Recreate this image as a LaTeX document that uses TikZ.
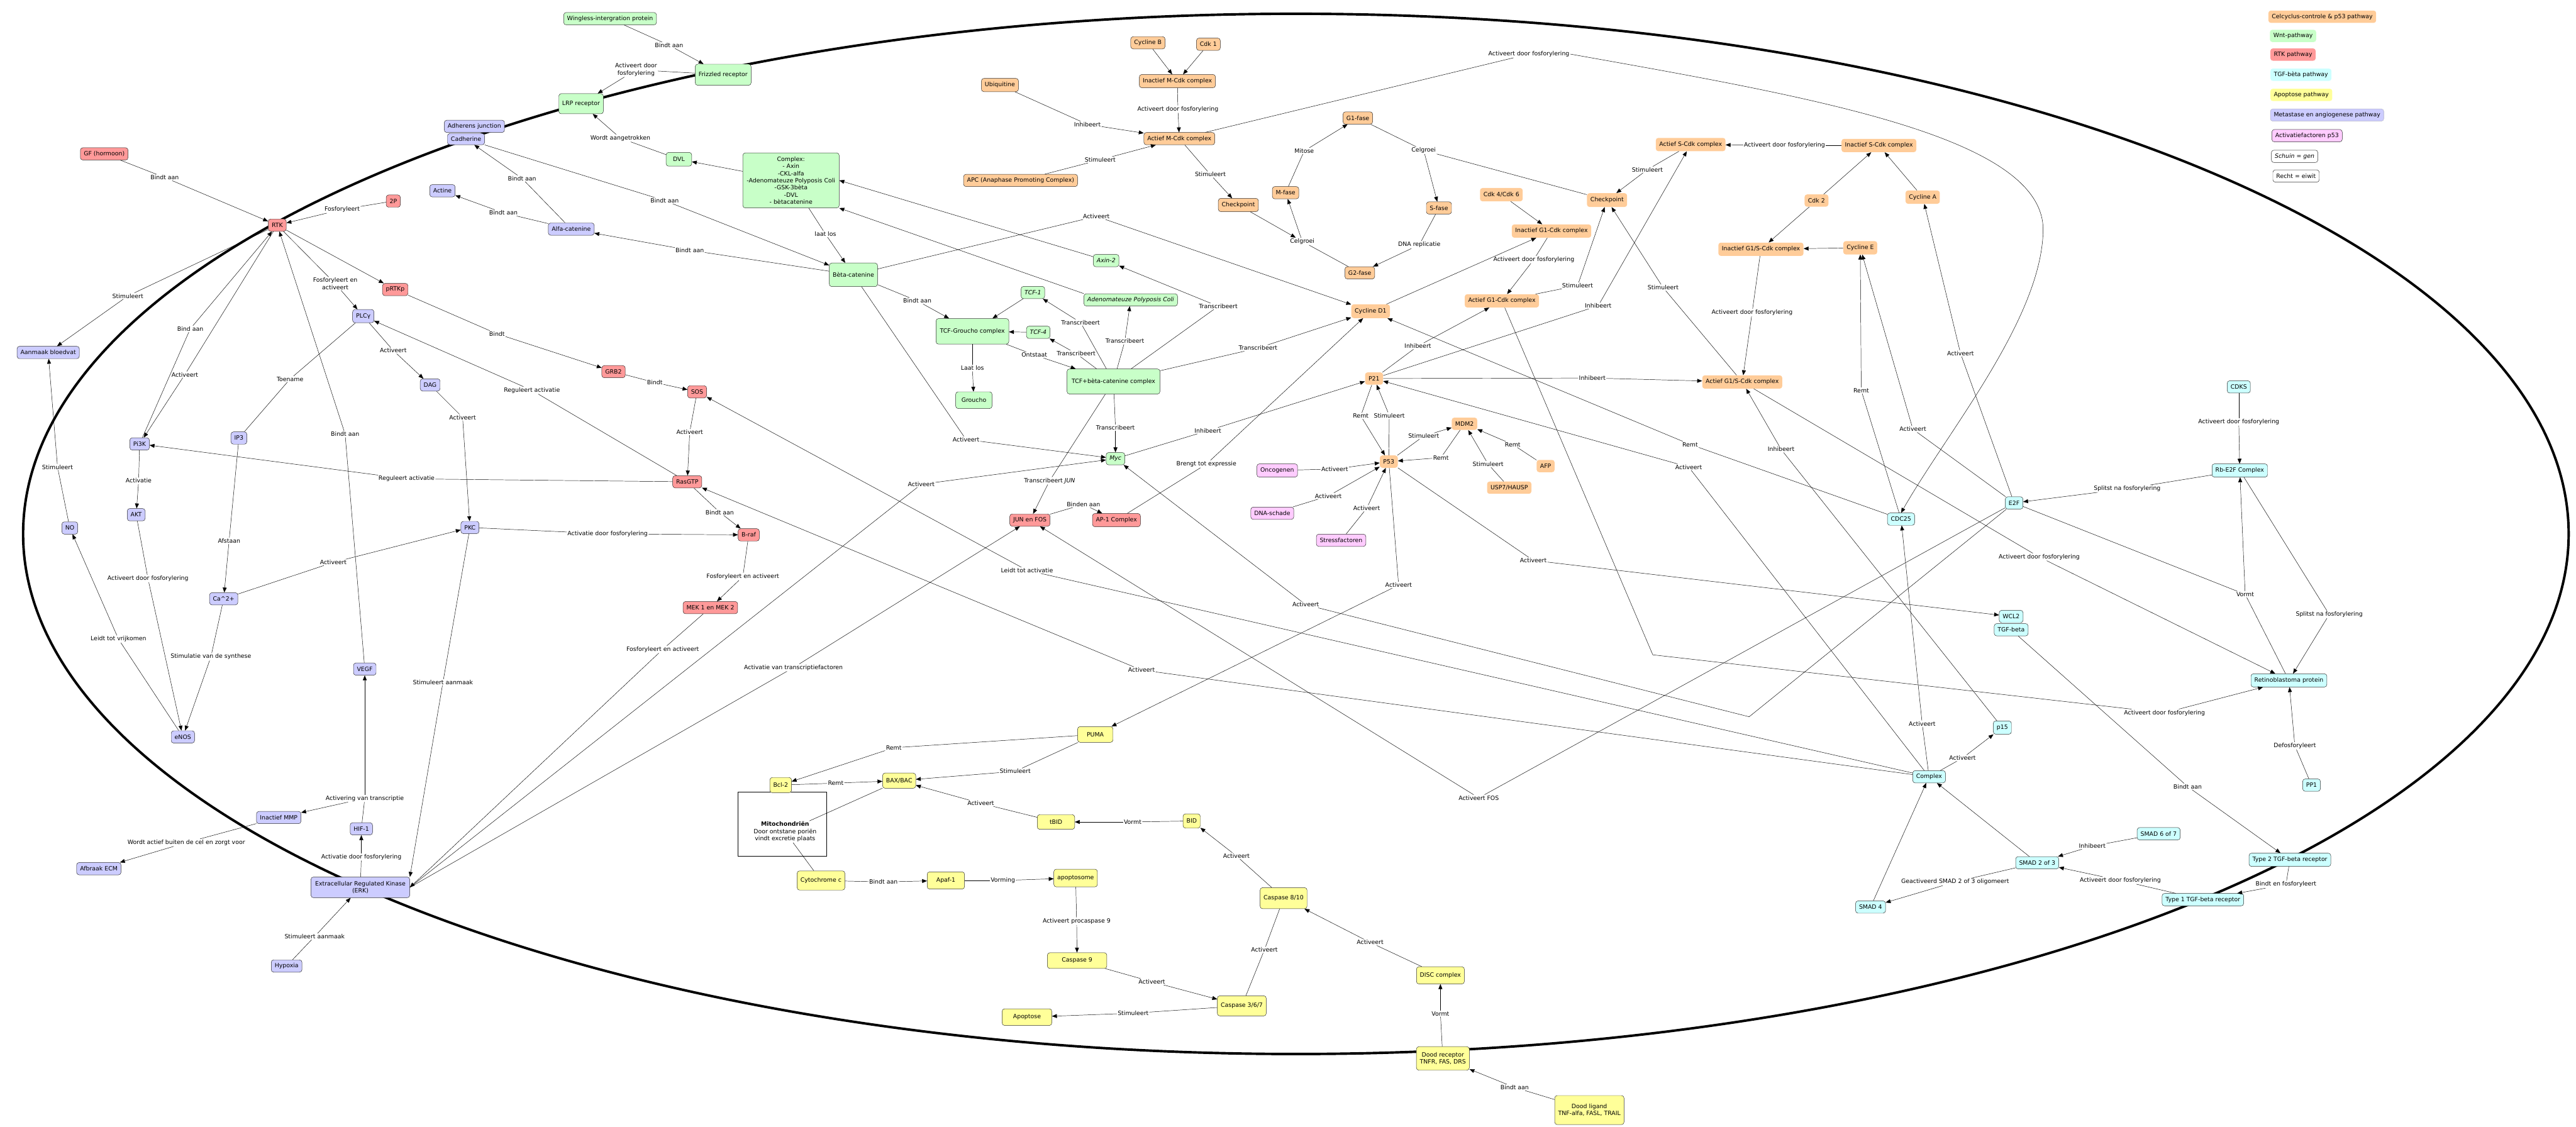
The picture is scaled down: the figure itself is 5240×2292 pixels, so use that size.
\documentclass[tikz,border=0pt]{standalone}
\usepackage{fontspec}
\setmainfont{DejaVu Sans}
\usetikzlibrary{arrows.meta}

\definecolor{cycfill}{HTML}{FFCC99}
\definecolor{wntfill}{HTML}{C8FFC8}
\definecolor{rtkfill}{HTML}{FF9999}
\definecolor{tgffill}{HTML}{CCFFFF}
\definecolor{apofill}{HTML}{FFFF99}
\definecolor{metafill}{HTML}{CCCCFF}
\definecolor{actfill}{HTML}{FFCCFF}

\begin{document}
\begin{tikzpicture}[x=1pt, y=-1pt, line width=0.6pt,
    font=\fontsize{12}{14.5}\selectfont,
    box/.style={draw=black!85, rounded corners=5pt, minimum height=25pt, inner xsep=7pt, inner ysep=2pt, align=center},
    cyc/.style={box, fill=cycfill},
    cycplain/.style={box, draw=none, fill=cycfill},
    wnt/.style={box, fill=wntfill},
    rtk/.style={box, fill=rtkfill},
    tgf/.style={box, fill=tgffill},
    apo/.style={box, fill=apofill},
    meta/.style={box, fill=metafill},
    actp/.style={box, fill=actfill},
    legend/.style={box, draw=none, anchor=west},
    gene/.style={font=\fontsize{12}{14.5}\selectfont\itshape},
    lab/.style={inner sep=1.5pt, align=center},
    arr/.style={-{Triangle[length=10pt, width=8pt]}},
]
\useasboundingbox (0,0) rectangle (5240,2292);

% Cell membrane
\draw[line width=5pt] (2636,1086) ellipse [x radius=2589pt, y radius=1058pt];

% Legend
\node[legend, fill=cycfill] (leg1) at (4614,34) {Celcyclus-controle \& p53 pathway};
\node[legend, fill=wntfill] (leg2) at (4617,73) {Wnt-pathway};
\node[legend, fill=rtkfill] (leg3) at (4618,111) {RTK pathway};
\node[legend, fill=tgffill] (leg4) at (4618,152) {TGF-bèta pathway};
\node[legend, fill=apofill] (leg5) at (4618,193) {Apoptose pathway};
\node[legend, fill=metafill, draw=metafill!60!black!60] (leg6) at (4618,234) {Metastase en angiogenese pathway};
\node[legend, fill=actfill, draw=black!85] (leg7) at (4621,276) {Activatiefactoren p53};
\node[legend, fill=white, draw=black!85, gene] (leg8) at (4620,318) {Schuin = gen};
\node[legend, fill=white, draw=black!85] (leg9) at (4623,358) {Recht = eiwit};

% Wnt pathway
\node[wnt] (wingless) at (1241,38) {Wingless-intergration protein};
\node[wnt, minimum height=43pt] (frizzled) at (1471,152) {Frizzled receptor};
\node[wnt, minimum height=41pt] (lrp) at (1182,211) {LRP receptor};
\node[wnt, minimum height=28pt, minimum width=52pt] (dvl) at (1381,324) {DVL};
\node[wnt, minimum width=196pt, minimum height=112pt] (wcomplex) at (1609,367) {Complex:\\- Axin\\-CKL-alfa\\-Adenomateuze Polyposis Coli\\-GSK-3bèta\\-DVL\\- bètacatenine};
\node[wnt, minimum width=98pt, minimum height=48pt] (beta) at (1736,559) {Bèta-catenine};
\node[wnt, gene] (axin) at (2250,530) {Axin-2};
\node[wnt, gene] (tcf1) at (2101,595) {TCF-1};
\node[wnt, gene] (apcgen) at (2300,610) {Adenomateuze Polyposis Coli};
\node[wnt, minimum width=148pt, minimum height=52pt] (tcfgro) at (1978,674) {TCF-Groucho complex};
\node[wnt, gene] (tcf4) at (2112,676) {TCF-4};
\node[wnt, minimum width=189pt, minimum height=51pt] (tcfbeta) at (2265,776) {TCF+bèta-catenine complex};
\node[wnt, minimum width=74pt, minimum height=34pt] (groucho) at (1981,814) {Groucho};
\node[wnt, gene] (myc) at (2269,933) {Myc};

% Metastase en angiogenese
\node[meta] (adherens) at (965,257) {Adherens junction};
\node[meta, minimum height=23pt] (cadherine) at (948,283) {Cadherine};
\node[meta] (actine) at (900,388) {Actine};
\node[meta] (alfacat) at (1162,466) {Alfa-catenine};
\node[meta] (bloedvat) at (98,717) {Aanmaak bloedvat};
\node[meta, minimum height=27pt] (plc) at (739,643) {PLCγ};
\node[meta] (dag) at (875,783) {DAG};
\node[meta] (pi3k) at (284,903) {Pi3K};
\node[meta] (ip3) at (486,891) {IP3};
\node[meta] (akt) at (277,1047) {AKT};
\node[meta] (no) at (142,1074) {NO};
\node[meta] (pkc) at (956,1073) {PKC};
\node[meta] (ca) at (455,1218) {Ca\textasciicircum{}2+};
\node[meta] (enos) at (372,1499) {eNOS};
\node[meta] (vegf) at (742,1361) {VEGF};
\node[meta] (mmp) at (567,1663) {Inactief MMP};
\node[meta] (hif) at (735,1686) {HIF-1};
\node[meta] (ecm) at (201,1767) {Afbraak ECM};
\node[meta, minimum width=201pt, minimum height=42pt] (erk) at (733,1805) {Extracellular Regulated Kinase\\(ERK)};
\node[meta] (hypoxia) at (583,1965) {Hypoxia};

% RTK pathway
\node[rtk] (gf) at (212,313) {GF (hormoon)};
\node[rtk] (rtk) at (564,458) {RTK};
\node[rtk] (twop) at (800,409) {2P};
\node[rtk] (prtkp) at (804,589) {pRTKp};
\node[rtk] (grb2) at (1248,756) {GRB2};
\node[rtk] (sos) at (1418,797) {SOS};
\node[rtk] (rasgtp) at (1398,980) {RasGTP};
\node[rtk] (braf) at (1523,1088) {B-raf};
\node[rtk] (mek) at (1445,1236) {MEK 1 en MEK 2};
\node[rtk] (junfos) at (2095,1058) {JUN en FOS};
\node[rtk, minimum height=27pt] (ap1) at (2271,1058) {AP-1 Complex};

% Celcyclus-controle & p53
\node[cyc] (cycb) at (2335,87) {Cycline B};
\node[cyc] (cdk1) at (2458,90) {Cdk 1};
\node[cyc, minimum height=27pt] (inmcdk) at (2395,165) {Inactief M-Cdk complex};
\node[cyc, minimum height=27pt] (ubiq) at (2034,173) {Ubiquitine};
\node[cyc] (acmcdk) at (2399,282) {Actief M-Cdk complex};
\node[cyc] (apc) at (2076,367) {APC (Anaphase Promoting Complex)};
\node[cyc, minimum height=27pt] (checkm) at (2519,417) {Checkpoint};
\node[cyc] (mfase) at (2615,392) {M-fase};
\node[cyc] (g1fase) at (2762,240) {G1-fase};
\node[cyc] (sfase) at (2927,423) {S-fase};
\node[cyc] (g2fase) at (2766,555) {G2-fase};
\node[cycplain, minimum height=27pt] (cdk46) at (3054,396) {Cdk 4/Cdk 6};
\node[cycplain, minimum height=28pt] (checks) at (3269,407) {Checkpoint};
\node[cycplain, minimum height=27pt] (ing1) at (3156,470) {Inactief G1-Cdk complex};
\node[cycplain, minimum height=27pt] (acscdk) at (3439,294) {Actief S-Cdk complex};
\node[cycplain, minimum height=27pt] (inscdk) at (3822,296) {Inactief S-Cdk complex};
\node[cycplain] (cdk2) at (3695,408) {Cdk 2};
\node[cycplain, minimum height=27pt] (cyca) at (3911,401) {Cycline A};
\node[cycplain, minimum height=27pt] (ing1s) at (3582,507) {Inactief G1/S-Cdk complex};
\node[cycplain, minimum height=27pt] (cyce) at (3784,504) {Cycline E};
\node[cycplain, minimum height=27pt] (acg1) at (3055,612) {Actief G1-Cdk complex};
\node[cycplain, minimum height=28pt] (cycd1) at (2788,633) {Cycline D1};
\node[cycplain] (p21) at (2795,770) {P21};
\node[cycplain, minimum height=27pt] (acg1s) at (3544,777) {Actief G1/S-Cdk complex};
\node[cycplain] (p53) at (2825,939) {P53};
\node[cycplain] (mdm2) at (2979,862) {MDM2};
\node[cycplain] (afp) at (3144,948) {AFP};
\node[cycplain] (usp7) at (3070,992) {USP7/HAUSP};

% Activatiefactoren p53
\node[actp, minimum height=27pt] (oncogenen) at (2598,957) {Oncogenen};
\node[actp] (dnaschade) at (2588,1044) {DNA-schade};
\node[actp] (stress) at (2728,1099) {Stressfactoren};

% TGF-beta pathway
\node[tgf] (cdks) at (4554,787) {CDKS};
\node[tgf, minimum height=27pt] (rbe2f) at (4556,957) {Rb-E2F Complex};
\node[tgf] (e2f) at (4097,1023) {E2F};
\node[tgf] (cdc25) at (3867,1056) {CDC25};
\node[tgf] (wcl2) at (4091,1254) {WCL2};
\node[tgf] (tgfb) at (4091,1281) {TGF-beta};
\node[tgf, minimum height=27pt] (rb) at (4656,1384) {Retinoblastoma protein};
\node[tgf, minimum height=27pt] (p15) at (4073,1480) {p15};
\node[tgf] (tcomplex) at (3924,1580) {Complex};
\node[tgf] (pp1) at (4702,1597) {PP1};
\node[tgf] (smad67) at (4391,1696) {SMAD 6 of 7};
\node[tgf] (smad23) at (4144,1755) {SMAD 2 of 3};
\node[tgf] (smad4) at (3805,1845) {SMAD 4};
\node[tgf, minimum height=27pt] (tgfr2) at (4658,1749) {Type 2 TGF-beta receptor};
\node[tgf] (tgfr1) at (4481,1830) {Type 1 TGF-beta receptor};

% Apoptose pathway
\draw[fill=white] (1501,1611) rectangle (1681,1742);
\node[lab] (mito) at (1597,1692) {\textbf{Mitochondriën}\\Door ontstane poriën\\vindt excretie plaats};
\node[apo, minimum width=72pt, minimum height=32pt] (puma) at (2228,1494) {PUMA};
\node[apo, minimum height=31pt] (bcl2) at (1588,1597) {Bcl-2};
\node[apo, minimum height=31pt] (bax) at (1829,1588) {BAX/BAC};
\node[apo, minimum width=76pt, minimum height=30pt] (tbid) at (2148,1672) {tBID};
\node[apo, minimum height=29pt] (bid) at (2424,1670) {BID};
\node[apo, minimum height=39pt] (cytc) at (1670,1791) {Cytochrome c};
\node[apo, minimum width=76pt, minimum height=35pt] (apaf) at (1924,1791) {Apaf-1};
\node[apo, minimum height=36pt] (apoptosome) at (2188,1786) {apoptosome};
\node[apo, minimum height=43pt] (casp810) at (2611,1827) {Caspase 8/10};
\node[apo, minimum width=121pt, minimum height=32pt] (casp9) at (2191,1954) {Caspase 9};
\node[apo, minimum height=41pt] (casp367) at (2526,2046) {Caspase 3/6/7};
\node[apo, minimum width=101pt, minimum height=34pt] (apoptose) at (2089,2069) {Apoptose};
\node[apo, minimum height=35pt] (disc) at (2930,1984) {DISC complex};
\node[apo, minimum height=48pt] (doodrec) at (2935,2153) {Dood receptor\\TNFR, FAS, DRS};
\node[apo, minimum height=59pt] (doodlig) at (3233,2258) {Dood ligand\\TNF-alfa, FASL, TRAIL};

% Wnt links
\node[lab] (lWF) at (1361,92) {Bindt aan};
\draw (wingless) -- (lWF) edge[arr] (frizzled);
\node[lab] (lFL) at (1294,142) {Activeert door\\fosforylering};
\draw (frizzled) -- (lFL) edge[arr] (lrp);
\node[lab] (lDL) at (1262,281) {Wordt aangetrokken};
\draw (dvl) -- (lDL) edge[arr] (lrp);
\draw[arr] (wcomplex) -- (dvl);
\node[lab] (lCB) at (1679,476) {laat los};
\draw (wcomplex) -- (lCB) edge[arr] (beta);
\draw[arr] (axin) -- (wcomplex.east);
\draw[arr] (apcgen.north west) -- (wcomplex.south east);
\node[lab] (lCaB) at (1352,408) {Bindt aan};
\draw (cadherine) -- (lCaB) edge[arr] (beta);
\node[lab] (lBA) at (1403,509) {Bindt aan};
\draw (beta) -- (lBA) edge[arr] (alfacat);
\node[lab] (lAC) at (1062,363) {Bindt aan};
\draw (alfacat) -- (lAC) edge[arr] (cadherine);
\node[lab] (lAA) at (1024,433) {Bindt aan};
\draw (alfacat) -- (lAA) edge[arr] (actine);
\node[lab] (lBT) at (1866,612) {Bindt aan};
\draw (beta) -- (lBT) edge[arr] (tcfgro);
\draw[arr] (tcf1) -- (tcfgro);
\draw[arr] (tcf4) -- (tcfgro);
\node[lab] (lOnt) at (2104,722) {Ontstaat};
\draw (tcfgro) -- (lOnt) edge[arr] (tcfbeta);
\node[lab] (lLL) at (1978,749) {Laat los};
\draw (tcfgro) -- (lLL) edge[arr] (groucho);
\node[lab] (lT1) at (2198,656) {Transcribeert};
\draw (tcfbeta) -- (lT1) edge[arr] (tcf1);
\node[lab] (lT2) at (2288,694) {Transcribeert};
\draw (tcfbeta) -- (lT2) edge[arr] (apcgen);
\node[lab] (lT3) at (2189,719) {Transcribeert};
\draw (tcfbeta) -- (lT3) edge[arr] (tcf4);
\node[lab] (lT4) at (2478,623) {Transcribeert};
\draw (tcfbeta) -- (lT4) edge[arr] (axin);
\node[lab] (lT5) at (2559,708) {Transcribeert};
\draw (tcfbeta) -- (lT5) edge[arr] (cycd1);
\node[lab] (lTM) at (2269,870) {Transcribeert};
\draw (tcfbeta) -- (lTM) edge[arr] (myc);
\node[lab] (lTJ) at (2135,978) {Transcribeert \textit{JUN}};
\draw (tcfbeta) -- (lTJ) edge[arr] (junfos);
\node[lab] (lBC) at (2230,440) {Activeert};
\draw (beta) -- (lBC) edge[arr] (cycd1);
\node[lab] (lBM) at (1965,894) {Activeert};
\draw (beta) -- (lBM) edge[arr] (myc);

% RTK and angiogenese links
\node[lab] (lGF) at (335,361) {Bindt aan};
\draw (gf) -- (lGF) edge[arr] (rtk);
\node[lab] (l2P) at (696,426) {Fosforyleert};
\draw (twop) -- (l2P) edge[arr] (rtk);
\draw[arr] (rtk) -- (prtkp);
\node[lab] (lRP) at (682,577) {Fosforyleert en\\activeert};
\draw (rtk) -- (lRP) edge[arr] (plc);
\node[lab] (lRB) at (260,602) {Stimuleert};
\draw (rtk) -- (lRB) edge[arr] (bloedvat);
\node[lab] (lPR) at (387,669) {Bind aan};
\draw (pi3k) -- (lPR) edge[arr] (rtk);
\node[lab] (lRPi) at (376,762) {Activeert};
\draw (rtk) -- (lRPi) edge[arr] (pi3k);
\node[lab] (lVR) at (702,883) {Bindt aan};
\draw (vegf) -- (lVR) edge[arr] (rtk);
\node[lab] (lPG) at (1011,679) {Bindt};
\draw (prtkp) -- (lPG) edge[arr] (grb2);
\node[lab] (lPD) at (800,713) {Activeert};
\draw (plc) -- (lPD) edge[arr] (dag);
\node[lab] (lPI) at (590,771) {Toename};
\draw (plc) -- (lPI) -- (ip3);
\node[lab] (lRaP) at (1082,794) {Reguleert activatie};
\draw (rasgtp) -- (lRaP) edge[arr] (plc);
\node[lab] (lGS) at (1332,778) {Bindt};
\draw (grb2) -- (lGS) edge[arr] (sos);
\node[lab] (lSR) at (1403,879) {Activeert};
\draw (sos) -- (lSR) edge[arr] (rasgtp);
\node[lab] (lRaPi) at (827,974) {Reguleert activatie};
\draw (rasgtp) -- (lRaPi) edge[arr] (pi3k);
\node[lab] (lDP) at (941,849) {Activeert};
\draw (dag) -- (lDP) edge[arr] (pkc);
\node[lab] (lPiA) at (282,978) {Activatie};
\draw (pi3k) -- (lPiA) edge[arr] (akt);
\node[lab] (lIC) at (466,1100) {Afstaan};
\draw (ip3) -- (lIC) edge[arr] (ca);
\node[lab] (lNB) at (117,950) {Stimuleert};
\draw (no) -- (lNB) edge[arr] (bloedvat);
\node[lab] (lRaB) at (1464,1042) {Bindt aan};
\draw (rasgtp) -- (lRaB) edge[arr] (braf);
\node[lab] (lPB) at (1236,1086) {Activatie door fosforylering};
\draw (pkc) -- (lPB) edge[arr] (braf);
\node[lab] (lCP) at (678,1144) {Activeert};
\draw (ca) -- (lCP) edge[arr] (pkc);
\node[lab] (lAE) at (301,1177) {Activeert door fosforylering};
\draw (akt) -- (lAE) edge[arr] (enos);
\node[lab] (lEN) at (241,1300) {Leidt tot vrijkomen};
\draw (enos) -- (lEN) edge[arr] (no);
\node[lab] (lCE) at (429,1336) {Stimulatie van de synthese};
\draw (ca) -- (lCE) edge[arr] (enos);
\node[lab] (lBMk) at (1511,1173) {Fosforyleert en activeert};
\draw (braf) -- (lBMk) edge[arr] (mek);
\node[lab] (lME) at (1348,1321) {Fosforyleert en activeert};
\draw (mek) -- (lME) edge[arr] (erk.east);
\node[lab] (lPE) at (901,1388) {Stimuleert aanmaak};
\draw (pkc) -- (lPE) edge[arr] (erk.north east);
\node[lab] (lEM) at (1874,985) {Activeert};
\draw (erk.east) -- (lEM) edge[arr] (myc);
\node[lab] (lEJ) at (1614,1358) {Activatie van transcriptiefactoren};
\draw (erk.east) -- (lEJ) edge[arr] (junfos);
\node[lab] (lHV) at (742,1624) {Activering van transcriptie};
\draw (hif) -- (lHV) edge[arr] (vegf) edge[arr] (mmp);
\node[lab] (lMA) at (379,1714) {Wordt actief buiten de cel en zorgt voor};
\draw (mmp) -- (lMA) edge[arr] (ecm);
\node[lab] (lEH) at (735,1743) {Activatie door fosforylering};
\draw (erk) -- (lEH) edge[arr] (hif);
\node[lab] (lHE) at (640,1905) {Stimuleert aanmaak};
\draw (hypoxia) -- (lHE) edge[arr] (erk);
\node[lab] (lJA) at (2204,1026) {Binden aan};
\draw (junfos) -- (lJA) edge[arr] (ap1);
\node[lab] (lAD) at (2454,944) {Brengt tot expressie};
\draw (ap1) -- (lAD) edge[arr] (cycd1);

% Celcyclus links
\draw[arr] (cycb) -- (inmcdk);
\draw[arr] (cdk1) -- (inmcdk);
\node[lab] (lIA) at (2396,222) {Activeert door fosforylering};
\draw (inmcdk) -- (lIA) edge[arr] (acmcdk);
\node[lab] (lUb) at (2212,253) {Inhibeert};
\draw (ubiq) -- (lUb) edge[arr] (acmcdk);
\node[lab] (lAPC) at (2238,325) {Stimuleert};
\draw (apc) -- (lAPC) edge[arr] (acmcdk);
\node[lab] (lMC) at (2462,355) {Stimuleert};
\draw (acmcdk) -- (lMC) edge[arr] (checkm);
\node[lab] (lBig) at (3110,110) {Activeert door fosforylering};
\draw (acmcdk) -- (lBig);
\draw[arr] (lBig.east) .. controls (3700,200) and (4160,280) .. (4156,470) .. controls (4152,650) and (3960,880) .. (cdc25.north);
\node[lab] (lMit) at (2653,307) {Mitose};
\draw (mfase) -- (lMit) edge[arr] (g1fase);
\node[lab] (lCg1) at (2896,306) {Celgroei};
\draw (g1fase) -- (lCg1) edge[arr] (sfase) edge (checks);
\node[lab] (lDNA) at (2887,498) {DNA replicatie};
\draw (sfase) -- (lDNA) edge[arr] (g2fase);
\node[lab] (lCg2) at (2649,491) {Celgroei};
\draw (g2fase) -- (lCg2) edge[arr] (mfase);
\draw[arr] (checkm) -- (lCg2);
\draw[arr] (cdk46) -- (ing1);
\draw[arr] (cycd1) -- (ing1);
\node[lab] (lG1) at (3120,528) {Activeert door fosforylering};
\draw (ing1) -- (lG1) edge[arr] (acg1);
\node[lab] (lSt1) at (3209,581) {Stimuleert};
\draw (acg1) -- (lSt1) edge[arr] (checks);
\node[lab] (lSt2) at (3351,345) {Stimuleert};
\draw (acscdk) -- (lSt2) edge[arr] (checks);
\node[lab] (lIS) at (3630,296) {Activeert door fosforylering};
\draw (inscdk) -- (lIS) edge[arr] (acscdk);
\draw[arr] (cdk2) -- (inscdk);
\draw[arr] (cyca) -- (inscdk);
\draw[arr] (cdk2) -- (ing1s);
\draw[arr] (cyce) -- (ing1s);
\node[lab] (lG1S) at (3564,636) {Activeert door fosforylering};
\draw (ing1s) -- (lG1S) edge[arr] (acg1s);
\node[lab] (lSt3) at (3383,585) {Stimuleert};
\draw (acg1s) -- (lSt3) edge[arr] (checks);
\node[lab] (lIn1) at (2884,704) {Inhibeert};
\draw (p21) -- (lIn1) edge[arr] (acg1);
\node[lab] (lIn2) at (3251,622) {Inhibeert};
\draw (p21) -- (lIn2) edge[arr] (acscdk);
\node[lab] (lIn3) at (3239,769) {Inhibeert};
\draw (p21) -- (lIn3) edge[arr] (acg1s);
\node[lab] (lRemD) at (3438,904) {Remt};
\draw (cdc25) -- (lRemD) edge[arr] (cycd1);
\node[lab] (lRemE) at (3786,794) {Remt};
\draw (cdc25) -- (lRemE) edge[arr] (cyce);
\node[lab] (lEE) at (3891,873) {Activeert};
\draw (e2f) -- (lEE) edge[arr] (cyce);
\node[lab] (lEA) at (3988,719) {Activeert};
\draw (e2f) -- (lEA) edge[arr] (cyca);
\node[lab] (lP15) at (3623,914) {Inhibeert};
\draw (p15) -- (lP15) edge[arr] (acg1s);
\node[lab] (lCP21) at (3435,950) {Activeert};
\draw (tcomplex) -- (lCP21) edge[arr] (p21);
\node[lab] (lMP) at (2457,876) {Inhibeert};
\draw (myc) -- (lMP) edge[arr] (p21);

% p53 links
\node[lab] (lRem1) at (2768,846) {Remt};
\draw (p21) -- (lRem1) edge[arr] (p53);
\node[lab] (lSt4) at (2826,845) {Stimuleert};
\draw (p53) -- (lSt4) edge[arr] (p21);
\node[lab] (lSt5) at (2896,887) {Stimuleert};
\draw (p53) -- (lSt5) edge[arr] (mdm2);
\node[lab] (lRem2) at (2931,931) {Remt};
\draw (mdm2) -- (lRem2) edge[arr] (p53);
\node[lab] (lSt6) at (3027,944) {Stimuleert};
\draw (usp7) -- (lSt6) edge[arr] (mdm2);
\node[lab] (lRem3) at (3077,904) {Remt};
\draw (afp) -- (lRem3) edge[arr] (mdm2);
\node[lab] (lOA) at (2715,954) {Activeert};
\draw (oncogenen) -- (lOA) edge[arr] (p53);
\node[lab] (lDA) at (2702,1009) {Activeert};
\draw (dnaschade) -- (lDA) edge[arr] (p53);
\node[lab] (lSA) at (2780,1034) {Activeert};
\draw (stress) -- (lSA) edge[arr] (p53);
\node[lab] (lPPu) at (2845,1190) {Activeert};
\draw (p53) -- (lPPu) edge[arr] (puma);
\node[lab] (lPW) at (3119,1140) {Activeert};
\draw (p53) -- (lPW) edge[arr] (wcl2);
\coordinate (bendEM) at (3558,1458);
\node[lab] (lEMy) at (2656,1230) {Activeert};
\draw (e2f) -- (bendEM) -- (lEMy) edge[arr] (myc);
\node[lab] (lFOS) at (3008,1623) {Activeert FOS};
\draw (e2f) -- (lFOS) edge[arr] (junfos);
\node[lab] (lRbA1) at (4148,1133) {Activeert door fosforylering};
\draw (acg1s) -- (lRbA1) edge[arr] (rb);
\coordinate (bendRb) at (3362,1332);
\node[lab] (lRbA2) at (4403,1450) {Activeert door fosforylering};
\draw (acg1) -- (bendRb) -- (lRbA2) edge[arr] (rb);

% TGF-beta links
\node[lab] (lCR) at (4554,858) {Activeert door fosforylering};
\draw (cdks) -- (lCR) edge[arr] (rbe2f);
\node[lab] (lSp1) at (4327,994) {Splitst na fosforylering};
\draw (rbe2f) -- (lSp1) edge[arr] (e2f);
\node[lab] (lSp2) at (4738,1250) {Splitst na fosforylering};
\draw (rbe2f) -- (lSp2) edge[arr] (rb);
\node[lab] (lVo) at (4567,1209) {Vormt};
\draw (e2f) -- (lVo) edge[arr] (rbe2f);
\draw (rb) -- (lVo);
\node[lab] (lDef) at (4668,1517) {Defosforyleert};
\draw (pp1) -- (lDef) edge[arr] (rb);
\node[lab] (lTB) at (4450,1600) {Bindt aan};
\draw (tgfb) -- (lTB) edge[arr] (tgfr2);
\node[lab] (lBF) at (4650,1799) {Bindt en fosforyleert};
\draw (tgfr2) -- (lBF) edge[arr] (tgfr1);
\node[lab] (lT1S) at (4313,1791) {Activeert door fosforylering};
\draw (tgfr1) -- (lT1S) edge[arr] (smad23);
\node[lab] (lS67) at (4256,1721) {Inhibeert};
\draw (smad67) -- (lS67) edge[arr] (smad23);
\node[lab] (lOli) at (3977,1794) {Geactiveerd SMAD 2 of 3 oligomeert};
\draw (smad23) -- (lOli) edge[arr] (smad4);
\draw[arr] (smad4) -- (tcomplex);
\draw[arr] (smad23) -- (tcomplex);
\node[lab] (lCp15) at (3992,1542) {Activeert};
\draw (tcomplex) -- (lCp15) edge[arr] (p15);
\node[lab] (lCC) at (3910,1472) {Activeert};
\draw (tcomplex) -- (lCC) edge[arr] (cdc25);
\node[lab] (lCS) at (2089,1160) {Leidt tot activatie};
\draw (tcomplex) -- (lCS) edge[arr] (sos);
\node[lab] (lCRa) at (2322,1363) {Activeert};
\draw (tcomplex) -- (lCRa) edge[arr] (rasgtp);

% Apoptose links
\node[lab] (lPB2) at (1818,1521) {Remt};
\draw (puma) -- (lPB2) edge[arr] (bcl2);
\node[lab] (lPBx) at (2065,1569) {Stimuleert};
\draw (puma) -- (lPBx) edge[arr] (bax);
\node[lab] (lBB) at (1700,1593) {Remt};
\draw (bcl2) -- (lBB) edge[arr] (bax);
\node[lab] (lTBx) at (1995,1634) {Activeert};
\draw (tbid) -- (lTBx) edge[arr] (bax);
\node[lab] (lVt) at (2304,1672) {Vormt};
\draw (bid) -- (lVt) edge[arr] (tbid);
\node[lab] (lCBi) at (2515,1741) {Activeert};
\draw (casp810) -- (lCBi) edge[arr] (bid);
\draw (bax) -- (mito) -- (cytc);
\node[lab] (lBi) at (1797,1794) {Bindt aan};
\draw (cytc) -- (lBi) edge[arr] (apaf);
\node[lab] (lVg) at (2040,1791) {Vorming};
\draw (apaf) -- (lVg) edge[arr] (apoptosome);
\node[lab] (lAP9) at (2190,1874) {Activeert procaspase 9};
\draw (apoptosome) -- (lAP9) edge[arr] (casp9);
\node[lab] (lC93) at (2343,1997) {Activeert};
\draw (casp9) -- (lC93) edge[arr] (casp367);
\node[lab] (lC83) at (2572,1932) {Activeert};
\draw (casp810) -- (lC83) -- (casp367);
\node[lab] (lSt7) at (2305,2061) {Stimuleert};
\draw (casp367) -- (lSt7) edge[arr] (apoptose);
\node[lab] (lDA2) at (2787,1917) {Activeert};
\draw (disc) -- (lDA2) edge[arr] (casp810);
\node[lab] (lVm) at (2930,2062) {Vormt};
\draw (doodrec) -- (lVm) edge[arr] (disc);
\node[lab] (lBD) at (3081,2212) {Bindt aan};
\draw (doodlig) -- (lBD) edge[arr] (doodrec);

\end{tikzpicture}
\end{document}
